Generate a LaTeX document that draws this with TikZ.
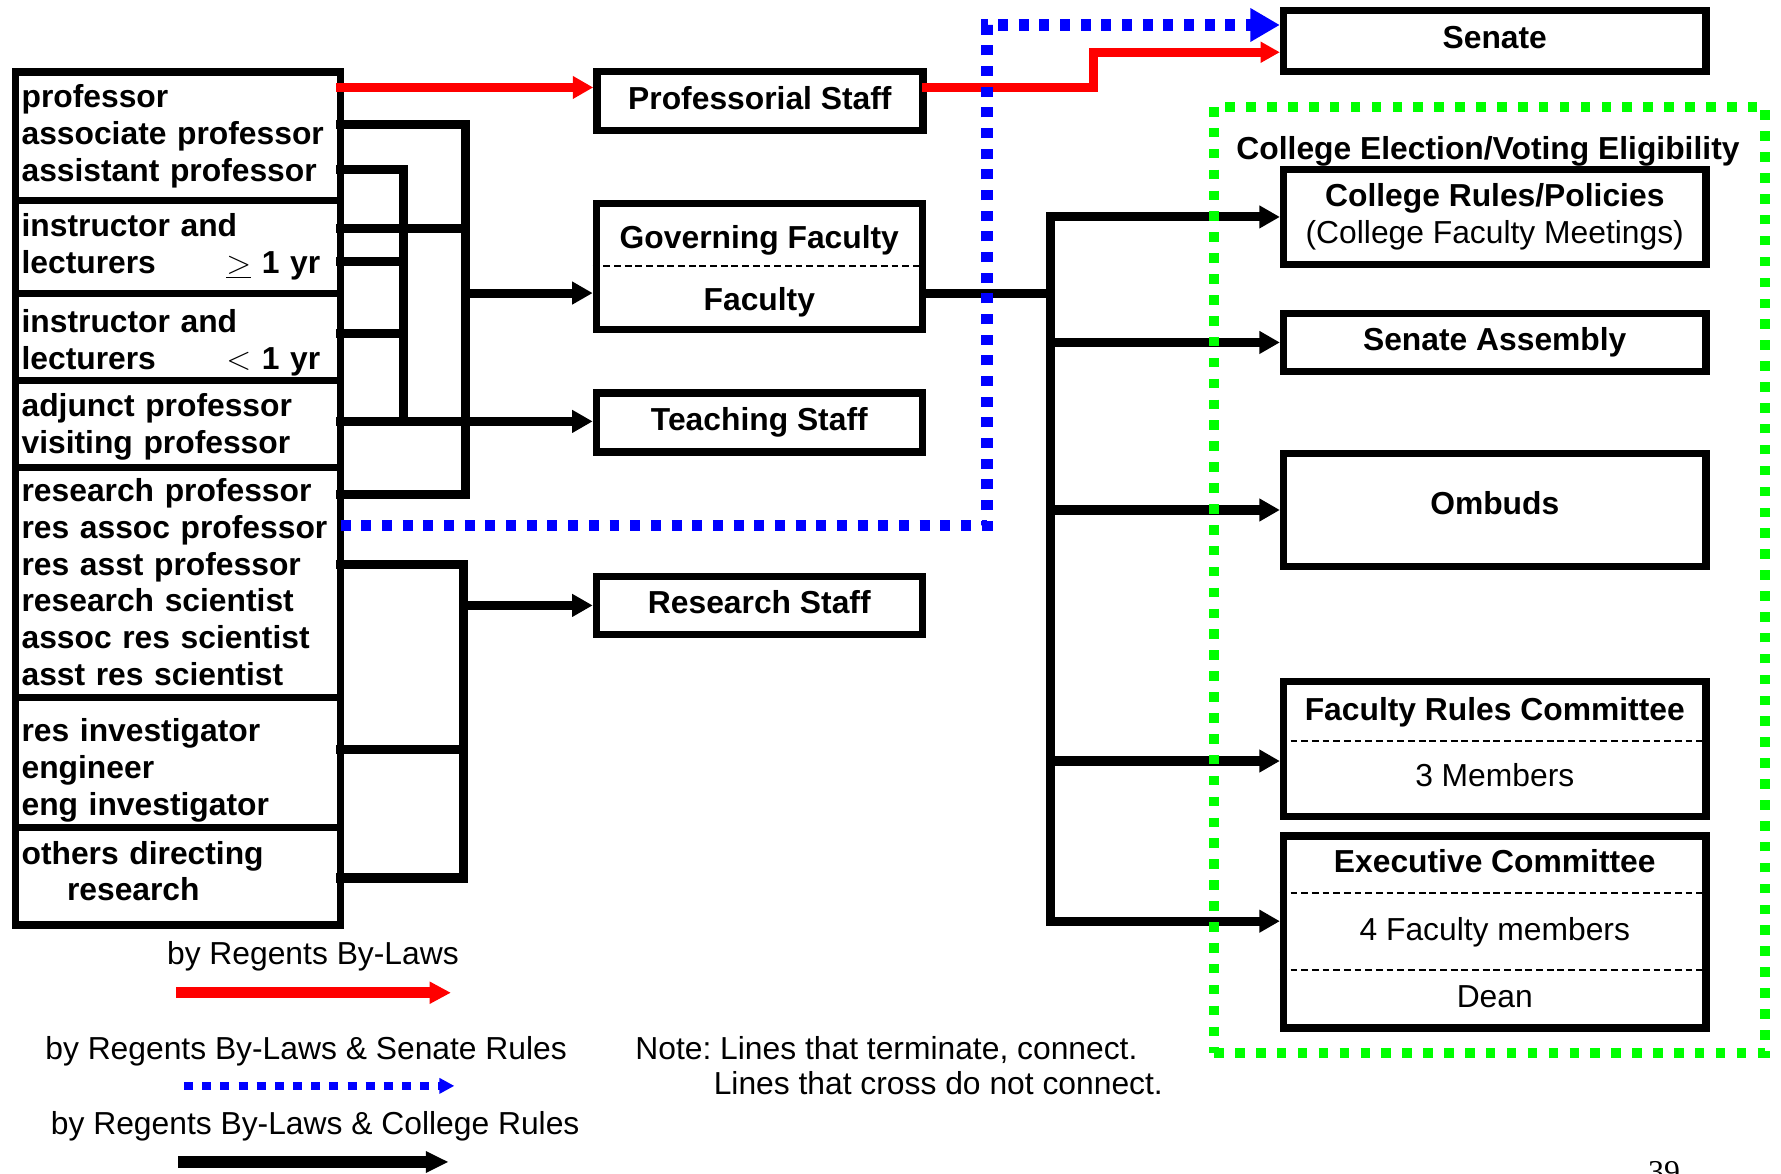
\documentclass[tikz,border=0pt]{standalone}
\usepackage{fontspec}
\setmainfont{Liberation Sans}
\newfontfamily\pagefont{Liberation Serif}
\usetikzlibrary{arrows.meta,positioning,calc}
\definecolor{lawred}{HTML}{FF0000}
\definecolor{ruleblue}{HTML}{0000FF}
\definecolor{votegreen}{HTML}{00FF00}
\newcommand{\diagfont}{\fontsize{14}{16.2}\selectfont\frenchspacing}
\tikzset{grp/.style={draw,line width=3.2pt,outer sep=0pt,minimum width=143.25pt,text width=137.75pt,inner xsep=2.75pt,inner ysep=2pt,align=left,font=\diagfont\bfseries},unit/.style={draw,line width=3.2pt,font=\diagfont\bfseries,inner sep=2pt},mid/.style={unit,minimum width=143.5pt},rgt/.style={unit,minimum width=186pt},tight/.style={text height=10pt,text depth=3pt},hd/.style={tight,font=\diagfont\bfseries,inner sep=0pt},sub/.style={hd,font=\diagfont},legend/.style={sub},split/.style={line width=.9pt,dash pattern=on 3pt off 1.7pt},wire/.style={line width=4pt,line cap=rect,line join=miter},colrule/.style={wire,-{Triangle[length=9pt,width=9.5pt]}},bylaw/.style={colrule,draw=lawred},senrule/.style={line width=5pt,draw=ruleblue,dash pattern=on 4.4pt off 4.7pt,-{Triangle[length=13pt,width=14pt]}},vote/.style={draw=votegreen,line width=4.2pt,dash pattern=on 4.2pt off 5pt}}

\begin{document}
\begin{tikzpicture}[x=0.5pt,y=-0.5pt]
\useasboundingbox (0,0) rectangle (1568,1033);
\node[grp,anchor=north west,minimum height=56.5pt] (profs) at (13.5,63.5) {professor\\associate professor\\assistant professor};
\node[grp,minimum height=41pt,below=0pt of profs] (lectlong) {instructor and\\lecturers\hfill$\underline{>}$ 1 yr\rule{6.25pt}{0pt}};
\node[grp,minimum height=37.75pt,below=0pt of lectlong] (lectshort) {\rule{0pt}{15.3pt}instructor and\\lecturers\hfill$<$ 1 yr\rule{6.25pt}{0pt}};
\node[grp,minimum height=38pt,below=0pt of lectshort] (adjunct) {\rule{0pt}{12.5pt}adjunct professor\\visiting professor};
\node[grp,minimum height=101.25pt,below=0pt of adjunct] (resprof) {research professor\\res assoc professor\\res asst professor\\research scientist\\assoc res scientist\\asst res scientist};
\node[grp,minimum height=57.25pt,below=0pt of resprof] (resinv) {\rule{0pt}{17.3pt}res investigator\\engineer\\eng investigator};
\node[grp,minimum height=43pt,below=0pt of resinv] (others) {others directing\\\hspace*{20pt}research\rule[-4.5pt]{0pt}{0pt}};

\node[mid,tight,minimum height=26pt] (profstaff) at (669,89) {Professorial Staff};
\node[mid,minimum height=55.5pt] (gov) at (668.5,234.5) {};
\node[hd] (govhd) at (668.5,212) {Governing Faculty};
\node[hd] (govfac) at (668.5,266) {Faculty};
\node[mid,tight,minimum height=26pt] (teach) at (668.5,372) {Teaching Staff};
\node[mid,tight,minimum height=25.5pt] (res) at (668.5,533) {Research Staff};

\node[rgt,tight,minimum height=27pt] (senate) at (1316,36) {Senate};
\node[hd] (eligtitle) at (1310,133) {College Election/Voting Eligibility};
\node[rgt,align=center,minimum height=42pt] (colrules) at (1316,191) {College Rules/Policies\\\mdseries(College Faculty Meetings)};
\node[rgt,tight,minimum height=25.5pt] (assembly) at (1316,301.5) {Senate Assembly};
\node[rgt,text height=10pt,text depth=6pt,minimum height=50pt] (ombuds) at (1316,449) {Ombuds};
\node[rgt,minimum height=59.5pt] (frc) at (1316,659.5) {};
\node[hd] (frchd) at (1316,627) {Faculty Rules Committee};
\node[sub] (frcmem) at (1316,685) {3 Members};
\node[rgt,minimum height=84.5pt] (exec) at (1316,820.5) {};
\node[hd] (exechd) at (1316,761) {Executive Committee};
\node[sub] (execfac) at (1316,821) {4 Faculty members};
\node[sub] (execdean) at (1316,880) {Dean};

\coordinate (govcut) at (0,234);
\coordinate (frccut) at (0,652);
\coordinate (execcut1) at (0,786);
\coordinate (execcut2) at (0,854);
\draw[split] (gov.west |- govcut) -- (gov.east |- govcut);
\draw[split] (frc.west |- frccut) -- (frc.east |- frccut);
\draw[split] (exec.west |- execcut1) -- (exec.east |- execcut1);
\draw[split] (exec.west |- execcut2) -- (exec.east |- execcut2);

\coordinate (aTop) at (410,110);
\coordinate (aBot) at (410,435);
\coordinate (aMid) at (410,201);
\coordinate (aOut) at (410,258);
\coordinate (bTop) at (355,149);
\coordinate (bBot) at (355,371);
\coordinate (b1) at (355,230);
\coordinate (b2) at (355,294);
\coordinate (cTop) at (408,497);
\coordinate (cBot) at (408,773);
\coordinate (c1) at (408,660);
\coordinate (dTop) at (925,191);
\coordinate (dBot) at (925,811);
\coordinate (dFac) at (925,258);
\coordinate (dFrc) at (925,670);
\coordinate (lawIn) at (0,77);
\coordinate (redStep) at (963,77);
\coordinate (redTop) at (963,46);
\coordinate (blueUp) at (869,462.5);
\coordinate (blueTop) at (869,22);

\draw[wire] (profs.east |- aTop) -- (aTop) -- (aBot) -- (resprof.east |- aBot);
\draw[wire] (lectlong.east |- aMid) -- (aMid);
\draw[colrule] (aOut) -- (gov.west |- aOut);
\draw[wire] (profs.east |- bTop) -- (bTop) -- (bBot);
\draw[wire] (lectlong.east |- b1) -- (b1);
\draw[wire] (lectshort.east |- b2) -- (b2);
\draw[colrule] (adjunct.east |- bBot) -- (teach.west |- bBot);
\draw[wire] (resprof.east |- cTop) -- (cTop) -- (cBot) -- (others.east |- cBot);
\draw[wire] (resinv.east |- c1) -- (c1);
\draw[colrule] (cTop |- res.west) -- (res.west);

\draw[wire] (gov.east |- dFac) -- (dFac);
\draw[colrule] (dBot) -- (dTop) -- (colrules.west);
\draw[colrule] (dTop |- assembly.west) -- (assembly.west);
\draw[colrule] (dTop |- ombuds.west) -- (ombuds.west);
\draw[colrule] (dFrc) -- (frc.west |- dFrc);
\draw[colrule] (dBot) -- (exec.west |- dBot);

\draw[bylaw] (profs.east |- lawIn) -- (profstaff.west |- lawIn);
\draw[bylaw,-{Triangle[length=8.5pt,width=8.8pt]}] (profstaff.east |- redStep) -- (redStep) -- (redTop) -- (senate.west |- redTop);
\draw[senrule] (resprof.east |- blueUp) -- (blueUp) -- (blueTop) -- (senate.west |- blueTop);

\node[vote,minimum width=242.5pt,minimum height=416.5pt] (elig) at (1311.5,510.5) {};

\node[legend] (lawkey) at (275.5,842) {by Regents By-Laws};
\node[legend] (senkey) at (269.5,926) {by Regents By-Laws \& Senate Rules};
\node[legend] (colkey) at (277.5,992) {by Regents By-Laws \& College Rules};
\coordinate (lawA) at (155,874);
\coordinate (lawB) at (397,874);
\coordinate (senA) at (162,956);
\coordinate (senB) at (400,956);
\coordinate (colA) at (157,1023);
\coordinate (colB) at (395,1023);
\draw[bylaw,line width=5pt,line cap=butt,-{Triangle[length=9.4pt,width=9.2pt]}] (lawA) -- (lawB);
\draw[senrule,line width=3.7pt,dash pattern=on 4pt off 4pt,-{Triangle[length=6.6pt,width=6.6pt]}] (senA) -- (senB);
\draw[colrule,line width=5pt,line cap=butt,-{Triangle[length=10pt,width=8.8pt]}] (colA) -- (colB);

\node[font=\diagfont,align=left,anchor=north west,inner sep=0pt] (note) at (559,912) {Note: Lines that terminate, connect.\\[-0.85pt]\hspace*{34.5pt}Lines that cross do not connect.};
\node[font=\pagefont\fontsize{14}{16}\selectfont,anchor=base,inner sep=0pt] (page) at (1465,1041) {39};
\end{tikzpicture}
\end{document}
